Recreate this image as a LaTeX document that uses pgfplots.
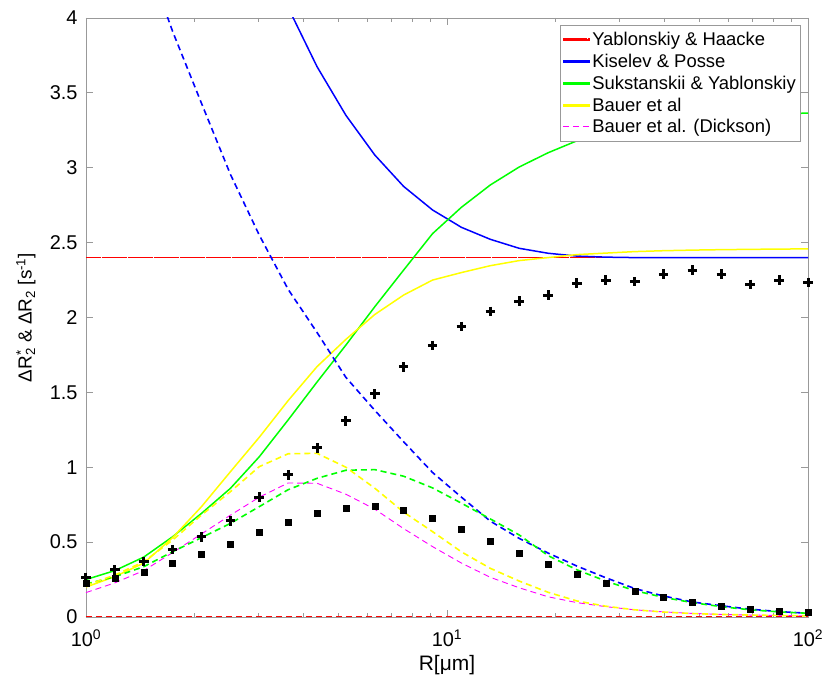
\documentclass[border=0pt]{standalone}
\usepackage{pgfplots}
\pgfplotsset{compat=1.18}
\usepackage{pgfplotstable}
\usepackage{fontspec}
\setmainfont{Liberation Sans}

\definecolor{cRed}{rgb}{1,0,0}
\definecolor{cBlue}{rgb}{0,0,1}
\definecolor{cGreen}{rgb}{0,1,0}
\definecolor{cYellow}{rgb}{1,1,0}
\definecolor{cMag}{rgb}{1,0,1}
\definecolor{axgray}{gray}{0.6}

\pgfplotstableread{
x      plus   sq     bs     bd     gs     gd     ys     yd     md
1      0.265  0.225  nan    nan    0.25   0.22   0.20   0.212  0.163
1.2023 0.314  0.26   nan    nan    0.31   0.269  0.27   0.28   0.228
1.4454 0.37   0.30   nan    4.45   0.40   0.336  0.36   0.369  0.31
1.7378 0.45   0.358  nan    3.91   0.536  0.436  0.53   0.514  0.43
2.0893 0.536  0.419  nan    3.43   0.692  0.53   0.737  0.681  0.555
2.5119 0.643  0.485  nan    2.956  0.859  0.625  0.97   0.837  0.68
3.0200 0.80   0.568  nan    2.55   1.07   0.737  1.20   1.004  0.80
3.6308 0.95   0.634  4.07   2.188  1.316  0.85   1.445  1.09   0.895
4.3652 1.13   0.694  3.675  1.90   1.569  0.926  1.672  1.093  0.893
5.2481 1.31   0.728  3.35   1.60   1.816  0.98   1.854  1.0    0.82
6.3096 1.49   0.737  3.085  1.38   2.072  0.984  2.02   0.86   0.72
7.5858 1.67   0.713  2.875  1.17   2.317  0.94   2.15   0.70   0.59
9.1201 1.814  0.659  2.718  0.965  2.56   0.862  2.25   0.57   0.47
10.965 1.94   0.588  2.602  0.80   2.736  0.76   2.30   0.435  0.36
13.183 2.04   0.508  2.522  0.64   2.885  0.655  2.346  0.325  0.265
15.849 2.11   0.427  2.462  0.525  3.005  0.548  2.38   0.24   0.195
19.055 2.15   0.352  2.429  0.427  3.10   0.41   2.40   0.165  0.135
22.909 2.23   0.285  2.41   0.34   3.18   0.315  2.42   0.107  0.096
27.542 2.25   0.223  2.403  0.262  3.24   0.24   2.43   0.072  0.069
33.113 2.24   0.169  2.40   0.19   3.28   0.176  2.44   0.048  0.048
39.811 2.29   0.131  2.40   0.14   3.31   0.131  2.446  0.033  0.034
47.863 2.317  0.098  2.40   0.10   3.33   0.096  2.45   0.023  0.024
57.544 2.29   0.071  2.40   0.075  3.345  0.069  2.453  0.017  0.017
69.183 2.22   0.053  2.40   0.052  3.355  0.048  2.455  0.013  0.013
83.176 2.25   0.040  2.40   0.036  3.36   0.034  2.457  0.010  0.010
100    2.235  0.029  2.40   0.025  3.365  0.025  2.458  0.008  0.008
}\dataR

\begin{document}
\begin{tikzpicture}
\begin{axis}[name=ax, scale only axis, width=722bp, height=599bp,
  xmode=log, xmin=1, xmax=100, ymin=0, ymax=4,
  xtick={1,10,100},
  xticklabels={10\textsuperscript{0},10\textsuperscript{1},10\textsuperscript{2}},
  ytick={0,0.5,1,1.5,2,2.5,3,3.5,4},
  yticklabels={0,0.5,1,1.5,2,2.5,3,3.5,4},
  tick label style={font=\fontsize{20}{24}\selectfont},
  xticklabel style={yshift=-9bp},
  yticklabel style={xshift=-5bp},
  axis line style={draw=axgray, line width=0.8bp},
  every tick/.style={draw=axgray, line width=0.8bp},
  major tick length=7bp, minor tick length=4bp,
  tick align=inside,
  xlabel={R[μm]},
  ylabel={ΔR\rlap{\textsuperscript{*}}\textsubscript{2} \& ΔR\textsubscript{2} [s\textsuperscript{-1}]},
  every axis x label/.style={at={(axis description cs:0.5,-0.0801)}, anchor=center, font=\fontsize{21}{25}\selectfont},
  every axis y label/.style={at={(axis description cs:-0.0831,0.5)}, rotate=90, anchor=center, font=\fontsize{19}{23}\selectfont},
  legend style={at={(axis description cs:1,1)}, anchor=north east, xshift=-8bp, yshift=-7bp,
    draw=axgray, fill=white, font=\fontsize{18.5}{22}\selectfont,
    inner xsep=2bp, inner ysep=5bp, row sep=3bp, cells={anchor=west}},
]
\addplot[draw=none, forget plot] coordinates {(1,-1) (100,-1)};
\addplot[draw=cRed, line width=1.8bp, dash pattern=on 5bp off 0.2bp,
  legend image code/.code={\fill[fill=cRed] (0bp,-0.9bp) rectangle (26bp,0.9bp);}]
  coordinates {(1,2.4) (100,2.4)};
\addlegendentry{Yablonskiy \& Haacke}
\addplot[draw=cBlue, line width=1.5bp,
  legend image code/.code={\fill[fill=cBlue] (0bp,-0.75bp) rectangle (26bp,0.75bp);}]
  table[x=x, y=bs] {\dataR};
\addlegendentry{Kiselev \& Posse}
\addplot[draw=cGreen, line width=1.5bp,
  legend image code/.code={\fill[fill=cGreen] (0bp,-0.75bp) rectangle (26bp,0.75bp);}]
  table[x=x, y=gs] {\dataR};
\addlegendentry{Sukstanskii \& Yablonskiy}
\addplot[draw=cYellow, line width=1.5bp,
  legend image code/.code={\fill[fill=cYellow] (0bp,-0.75bp) rectangle (26bp,0.75bp);}]
  table[x=x, y=ys] {\dataR};
\addlegendentry{Bauer et al}
\addplot[draw=cMag, line width=0.9bp, dash pattern=on 6bp off 4bp,
  legend image code/.code={\draw[draw=cMag, line width=0.9bp, dash pattern=on 6bp off 4bp] (0bp,0bp) -- (26bp,0bp);}]
  table[x=x, y=md] {\dataR};
\addlegendentry{Bauer et al. (Dickson)}
\addplot[draw=cBlue, line width=1.6bp, dash pattern=on 6bp off 4bp, forget plot] table[x=x, y=bd] {\dataR};
\addplot[draw=cGreen, line width=1.6bp, dash pattern=on 6bp off 4bp, forget plot] table[x=x, y=gd] {\dataR};
\addplot[draw=cYellow, line width=1.6bp, dash pattern=on 6bp off 4bp, forget plot] table[x=x, y=yd] {\dataR};
\addplot[draw=cRed, line width=1.8bp, dash pattern=on 6bp off 4bp, forget plot] coordinates {(1,0) (100,0)};
\addplot[only marks, mark=+, mark size=4.8bp, draw=black, mark options={draw=black, line width=3bp}, forget plot] table[x=x, y=plus] {\dataR};
\addplot[only marks, mark=square*, mark size=3bp, draw=black, fill=black, mark options={draw=black, fill=black}, forget plot] table[x=x, y=sq] {\dataR};
\end{axis}
\pgfresetboundingbox
\path ([shift={(-86bp,-65bp)}]ax.south west) rectangle ([shift={(16bp,18bp)}]ax.north east);
\end{tikzpicture}
\end{document}
